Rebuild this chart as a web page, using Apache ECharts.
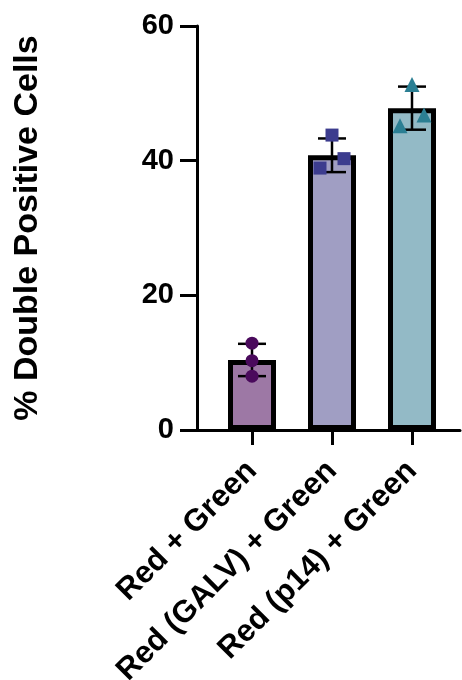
<!DOCTYPE html>
<html>
<head>
<meta charset="utf-8">
<script src="https://cdn.jsdelivr.net/npm/echarts@6/dist/echarts.min.js"></script>
<style>
html,body{margin:0;padding:0;background:#fff;}
#chart{width:462px;height:680px;}
</style>
</head>
<body>
<div id="chart"></div>
<script>
// ---- data ----
const categories = ['Red + Green', 'Red (GALV) + Green', 'Red (p14) + Green'];
const means = [10.4, 40.8, 47.8];
const sds = [2.4, 2.5, 3.2];
const points1 = [12.9, 10.3, 8.0];
const points2 = [43.8, 40.3, 38.9];
const points3 = [51.3, 46.8, 45.2];
const jitter1 = [0, 0, 0];
const jitter2 = [0, 0.15, -0.15];
const jitter3 = [0, 0.15, -0.15];
const yTicks = [0, 20, 40, 60];

const barColors = ['#9d78a5', '#a09ec3', '#93bac6'];
const pointColors = ['#4a0a5c', '#3c3c8e', '#2b7f93'];
const symbols = ['circle', 'rect', 'triangle'];

const FONT = '"Liberation Sans", Arial, sans-serif';

const barData = means.map((m, i) => ({
  value: [i, m],
  itemStyle: { color: barColors[i] }
}));
const errData = means.map((m, i) => [i, m - sds[i], m + sds[i]]);

function pts(vals, jit, idx) {
  return {
    type: 'scatter',
    symbol: symbols[idx],
    symbolSize: idx === 2 ? 15 : 13,
    itemStyle: { color: pointColors[idx], opacity: 1 },
    z: 5,
    data: vals.map((v, k) => [idx + jit[k], v])
  };
}

const chart = echarts.init(document.getElementById('chart'), null, { renderer: 'canvas' });
chart.setOption({
  animation: false,
  backgroundColor: '#fff',
  grid: { left: 197, right: 2, top: 26, bottom: 250, containLabel: false, outerBoundsMode: 'none' },
  xAxis: {
    type: 'value',
    min: -0.6875,
    max: 2.6,
    splitLine: { show: false },
    axisLine: { show: true, onZero: false, lineStyle: { color: '#000', width: 3 } },
    axisTick: { show: true, customValues: [0, 1, 2], length: 15, lineStyle: { color: '#000', width: 3 } },
    axisLabel: {
      show: true,
      customValues: [0, 1, 2],
      formatter: v => categories[Math.round(v)],
      rotate: 45,
      margin: 36,
      color: '#000',
      fontSize: 31,
      fontWeight: 'bold',
      fontFamily: FONT
    }
  },
  yAxis: {
    type: 'value',
    min: 0,
    max: 60,
    interval: 20,
    name: '% Double Positive Cells',
    nameLocation: 'middle',
    nameRotate: 90,
    nameGap: 152,
    nameTextStyle: { color: '#000', fontSize: 34, fontWeight: 'bold', fontFamily: FONT },
    splitLine: { show: false },
    axisLine: { show: true, onZero: false, lineStyle: { color: '#000', width: 3 } },
    axisTick: { show: true, length: 17, lineStyle: { color: '#000', width: 3 } },
    axisLabel: {
      margin: 23,
      color: '#000',
      fontSize: 29,
      fontWeight: 'bold',
      fontFamily: FONT,
      customValues: yTicks
    }
  },
  series: [
    {
      type: 'bar',
      barWidth: 48,
      itemStyle: { borderColor: '#000', borderWidth: 5 },
      z: 2,
      data: barData
    },
    {
      type: 'custom',
      z: 4,
      renderItem: function (params, api) {
        const x = api.value(0);
        const lo = api.coord([x, api.value(1)]);
        const hi = api.coord([x, api.value(2)]);
        const hw = 14;
        const style = { stroke: '#000', lineWidth: 2.5 };
        return {
          type: 'group',
          children: [
            { type: 'line', shape: { x1: lo[0], y1: lo[1], x2: hi[0], y2: hi[1] }, style },
            { type: 'line', shape: { x1: lo[0] - hw, y1: lo[1], x2: lo[0] + hw, y2: lo[1] }, style },
            { type: 'line', shape: { x1: hi[0] - hw, y1: hi[1], x2: hi[0] + hw, y2: hi[1] }, style }
          ]
        };
      },
      encode: { x: 0, y: [1, 2] },
      data: errData
    },
    pts(points1, jitter1, 0),
    pts(points2, jitter2, 1),
    pts(points3, jitter3, 2)
  ]
});
</script>
</body>
</html>
